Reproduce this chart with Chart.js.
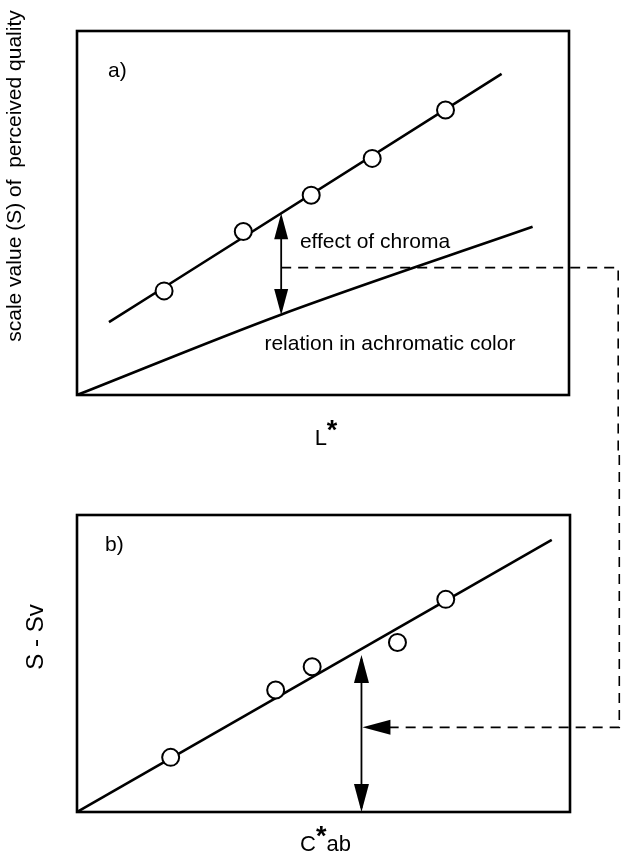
<!DOCTYPE html>
<html>
<head>
<meta charset="utf-8">
<script src="https://cdn.jsdelivr.net/npm/chart.js@4.4.0/dist/chart.umd.min.js"></script>
<style>
  body { margin: 0; background: #fff; }
  #wrap { position: relative; width: 627px; height: 859px; }
  canvas { position: absolute; left: 0; }
  #chartA { top: 0; }
  #chartB { top: 455px; }
</style>
</head>
<body>
<div id="wrap">
  <canvas id="chartA" width="627" height="455"></canvas>
  <canvas id="chartB" width="627" height="404"></canvas>
</div>
<script>
// panel a) : scale value S against L*
const lStar    = [17.7, 33.8, 47.6, 60.0, 74.9];
const scaleS   = [2.86, 4.49, 5.49, 6.50, 7.83];
const fitAX    = [6.5, 86.3];
const fitAY    = [2.0, 8.82];
const achromX  = [0, 41.3, 92.6];
const achromY  = [0, 2.2, 4.62];

// panel b) : S - Sv against C*ab
const cStarAb  = [19.0, 40.3, 47.7, 65.0, 74.8];
const sMinusSv = [1.84, 4.11, 4.89, 5.71, 7.16];
const fitBX    = [0, 96.3];
const fitBY    = [0, 9.16];

const FONT = '"Liberation Sans", Arial, Helvetica, sans-serif';
const pts = (xs, ys) => xs.map((x, i) => ({ x: x, y: ys[i] }));

// filled arrow head, tip at (x, y), pointing along (dx, dy)
function head(ctx, x, y, dx, dy, len, hw) {
  const bx = x - dx * len, by = y - dy * len;
  ctx.beginPath();
  ctx.moveTo(x, y);
  ctx.lineTo(bx - dy * hw, by + dx * hw);
  ctx.lineTo(bx + dy * hw, by - dx * hw);
  ctx.closePath();
  ctx.fill();
}

function panelPlugin(o) {
  return {
    id: 'panel' + o.tag,
    afterDraw(chart) {
      const ctx = chart.ctx, a = chart.chartArea;
      const px = v => chart.scales.x.getPixelForValue(v);
      const py = v => chart.scales.y.getPixelForValue(v);
      ctx.save();
      ctx.strokeStyle = '#000';
      ctx.fillStyle = '#000';

      // frame
      ctx.lineWidth = 2.6;
      ctx.strokeRect(a.left, a.top, a.right - a.left, a.bottom - a.top);

      // double arrow
      const ar = o.arrow, ax = px(ar.x), y1 = py(ar.top), y2 = py(ar.bottom);
      ctx.lineWidth = 1.8;
      ctx.beginPath();
      ctx.moveTo(ax, y1 + 4);
      ctx.lineTo(ax, y2 - 4);
      ctx.stroke();
      head(ctx, ax, y1, 0, -1, ar.len, ar.hw);
      head(ctx, ax, y2, 0, 1, ar.len, ar.hw);

      // dashed link between the panels
      const ly = py(ar.link), lx = px(o.linkX);
      ctx.setLineDash([10, 7]);
      ctx.lineWidth = 1.6;
      ctx.beginPath();
      if (o.linkDown) {
        ctx.moveTo(ax, ly);
        ctx.lineTo(lx, ly);
        ctx.lineTo(lx, chart.height);
      } else {
        ctx.moveTo(lx, 0);
        ctx.lineTo(lx, ly);
        ctx.lineTo(ax + ar.len, ly);
      }
      ctx.stroke();
      ctx.setLineDash([]);
      if (!o.linkDown) head(ctx, ax + 1, ly, -1, 0, ar.len, ar.hw);

      // texts inside the panel
      ctx.font = '21px ' + FONT;
      ctx.textAlign = 'left';
      ctx.textBaseline = 'alphabetic';
      o.texts.forEach(t => ctx.fillText(t.text, px(t.x), py(t.y)));

      // x title with starred letter
      const xt = o.xTitle;
      ctx.font = '22px ' + FONT;
      const wMain = ctx.measureText(xt.main).width;
      const wRest = ctx.measureText(xt.rest).width;
      ctx.font = 'bold 27px ' + FONT;
      const wStar = ctx.measureText('*').width;
      const cx = (a.left + a.right) / 2 + xt.dx;
      const x0 = cx - (wMain + wStar + wRest) / 2;
      const base = a.bottom + xt.dy;
      ctx.font = '22px ' + FONT;
      ctx.fillText(xt.main, x0, base);
      ctx.font = 'bold 27px ' + FONT;
      ctx.fillText('*', x0 + wMain, base - 6);
      ctx.font = '22px ' + FONT;
      ctx.fillText(xt.rest, x0 + wMain + wStar, base);

      // y title, rotated
      const yt = o.yTitle;
      ctx.translate(a.left + yt.dx, a.top + yt.dy);
      ctx.rotate(-Math.PI / 2);
      ctx.textAlign = 'center';
      ctx.font = yt.size + 'px ' + FONT;
      ctx.fillText(yt.text, 0, 0);
      ctx.restore();
    }
  };
}

function datasetsFor(xs, ys, lines) {
  const sets = [{
    data: pts(xs, ys),
    showLine: false,
    pointRadius: 8.5,
    pointBackgroundColor: '#fff',
    pointBorderColor: '#000',
    pointBorderWidth: 2
  }];
  lines.forEach(l => sets.push({
    data: pts(l[0], l[1]),
    showLine: true,
    borderColor: '#000',
    borderWidth: 2.6,
    pointRadius: 0,
    cubicInterpolationMode: 'monotone'
  }));
  return sets;
}

function makeChart(id, datasets, plugin, pad) {
  return new Chart(document.getElementById(id), {
    type: 'scatter',
    data: { datasets: datasets },
    options: {
      responsive: false,
      animation: false,
      layout: { padding: pad },
      plugins: { legend: { display: false }, tooltip: { enabled: false } },
      scales: {
        x: { type: 'linear', min: 0, max: 100, display: false },
        y: { type: 'linear', min: 0, max: 10, display: false }
      }
    },
    plugins: [plugin]
  });
}

makeChart('chartA',
  datasetsFor(lStar, scaleS, [[fitAX, fitAY], [achromX, achromY]]),
  panelPlugin({
    tag: 'A',
    arrow: { x: 41.5, top: 4.99, bottom: 2.2, link: 3.5, len: 26, hw: 7 },
    linkX: 110, linkDown: true,
    texts: [
      { text: 'a)', x: 6.3, y: 8.74 },
      { text: 'effect of chroma', x: 45.3, y: 4.04 },
      { text: 'relation in achromatic color', x: 38.1, y: 1.24 }
    ],
    xTitle: { main: 'L', rest: '', dx: 3, dy: 50 },
    yTitle: { text: 'scale value (S) of  perceived quality', size: 21, dx: -56, dy: 145 }
  }),
  { left: 77, right: 58, top: 31, bottom: 60 });

makeChart('chartB',
  datasetsFor(cStarAb, sMinusSv, [[fitBX, fitBY]]),
  panelPlugin({
    tag: 'B',
    arrow: { x: 57.7, top: 5.29, bottom: 0, link: 2.85, len: 28, hw: 7.5 },
    linkX: 110, linkDown: false,
    texts: [
      { text: 'b)', x: 5.7, y: 8.8 }
    ],
    xTitle: { main: 'C', rest: 'ab', dx: 2, dy: 39 },
    yTitle: { text: 'S - Sv', size: 24, dx: -34, dy: 122 }
  }),
  { left: 77, right: 57, top: 60, bottom: 47 });
</script>
</body>
</html>
